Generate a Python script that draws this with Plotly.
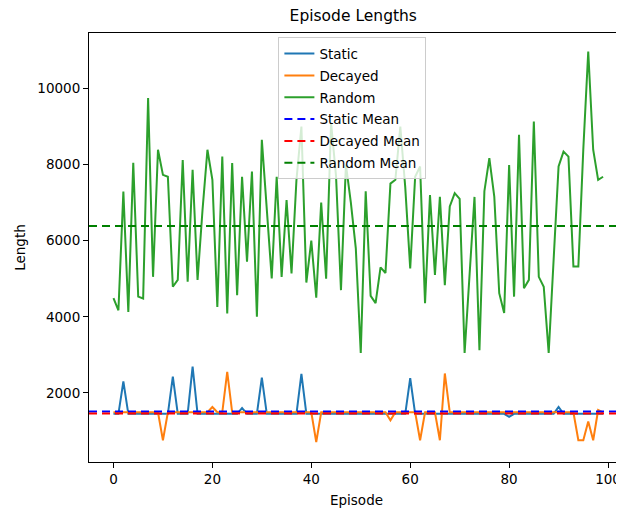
import numpy as np
import plotly.graph_objects as go

episodes = list(range(100))

static = [
    1450, 1450, 2300, 1450, 1450, 1450, 1450, 1450, 1450, 1450,
    1450, 1450, 2430, 1450, 1450, 1450, 2690, 1450, 1450, 1450,
    1450, 1450, 1450, 1450, 1450, 1450, 1600, 1450, 1450, 1450,
    2400, 1450, 1450, 1450, 1450, 1450, 1450, 1450, 2500, 1450,
    1450, 1450, 1450, 1450, 1450, 1450, 1450, 1450, 1450, 1450,
    1450, 1450, 1450, 1450, 1450, 1450, 1450, 1450, 1450, 1450,
    2390, 1450, 1450, 1450, 1450, 1450, 1450, 1450, 1450, 1450,
    1450, 1450, 1450, 1450, 1450, 1450, 1450, 1450, 1450, 1450,
    1370, 1450, 1450, 1450, 1450, 1450, 1450, 1450, 1450, 1450,
    1630, 1450, 1450, 1450, 1450, 1450, 1450, 1450, 1450, 1450,
]

decayed = [
    1490, 1490, 1490, 1490, 1490, 1490, 1490, 1490, 1490, 1490,
    755, 1490, 1490, 1490, 1490, 1490, 1490, 1490, 1490, 1490,
    1630, 1490, 1490, 2550, 1490, 1490, 1490, 1490, 1490, 1490,
    1490, 1490, 1490, 1490, 1490, 1490, 1490, 1490, 1490, 1490,
    1490, 710, 1490, 1490, 1490, 1490, 1490, 1490, 1490, 1490,
    1490, 1490, 1490, 1490, 1490, 1490, 1280, 1490, 1490, 1490,
    1490, 1490, 755, 1490, 1490, 1490, 755, 2510, 1490, 1490,
    1490, 1490, 1490, 1490, 1490, 1490, 1490, 1490, 1490, 1490,
    1490, 1490, 1490, 1490, 1490, 1490, 1490, 1490, 1490, 1490,
    1490, 1490, 1490, 1490, 755, 755, 1250, 755, 1550, 1490,
]

random_lengths = [
    4490, 4170, 7290, 4130, 8050, 4530, 4480, 9750, 5050, 8390,
    7730, 7680, 4790, 4970, 8120, 4920, 7860, 4970, 6800, 8390,
    7600, 4260, 8210, 4090, 8040, 4570, 7680, 5450, 7820, 4000,
    8650, 6700, 5010, 7680, 5050, 7070, 5140, 7600, 9000, 4900,
    6000, 4500, 7000, 5000, 9100, 7700, 4700, 8000, 7000, 5800,
    3050, 7300, 4550, 4360, 5300, 5150, 7500, 7600, 9000, 7400,
    5270, 7680, 7950, 4360, 7200, 5100, 7150, 4830, 6900, 7250,
    7100, 3050, 5200, 7150, 3120, 7300, 8170, 7160, 4620, 4100,
    7990, 4530, 8780, 4750, 4970, 9130, 5050, 4790, 3050, 5400,
    7950, 8340, 8210, 5320, 5320, 8400, 10970, 8390, 7600, 7680,
]

series = [("Static", static, "#1f77b4"),
          ("Decayed", decayed, "#ff7f0e"),
          ("Random", random_lengths, "#2ca02c")]
means = [("Static Mean", float(np.mean(static)), "#0000ff"),
         ("Decayed Mean", float(np.mean(decayed)), "#ff0000"),
         ("Random Mean", float(np.mean(random_lengths)), "#008000")]

FONT = "DejaVu Sans"
# the page body has an 8px default margin; the figure is sized to fill the rest of the window
W, H = 616, 502

fig = go.Figure()
rank = 1
for name, vals, col in series:
    fig.add_trace(go.Scatter(x=episodes, y=vals, mode="lines", name=name,
                             line=dict(color=col, width=2), legendrank=rank,
                             legendgroup=name))
    rank += 1
for name, m, col in means:
    fig.add_shape(type="line", xref="x domain", x0=0, x1=1, yref="y", y0=m, y1=m,
                  line=dict(color=col, width=2, dash="8px,5px"), layer="above",
                  showlegend=True, name=name, legendrank=rank, legendgroup=name)
    rank += 1

axis_common = dict(showline=True, linecolor="black", linewidth=1.1, ticks="outside",
                   ticklen=5, tickwidth=1.1, tickcolor="black", showgrid=False,
                   zeroline=False, automargin=False, tickformat="d",
                   tickfont=dict(family=FONT, size=13.5, color="black"))

fig.update_layout(
    width=W, height=H,
    margin=dict(l=80.5, r=0, t=25, b=48),
    paper_bgcolor="white", plot_bgcolor="white",
    font=dict(family=FONT, color="black"),
    title=dict(text="Episode Lengths", x=0.494, xref="paper", xanchor="center",
               y=1 - 7.5 / H, yanchor="middle", font=dict(family=FONT, size=15.5, color="black")),
    xaxis=dict(range=[-4.95, 103.23], tickmode="array", tickvals=[0, 20, 40, 60, 80, 100],
               mirror=True, title=dict(text="Episode", font=dict(family=FONT, size=13.5), standoff=9),
               **axis_common),
    yaxis=dict(range=[184, 11458], tickmode="array", tickvals=[2000, 4000, 6000, 8000, 10000],
               title=dict(text="Length", font=dict(family=FONT, size=13.5), standoff=8),
               **axis_common),
    legend=dict(x=0.354, y=0.99, xanchor="left", yanchor="top",
                bgcolor="rgba(255,255,255,0.8)", bordercolor="#cccccc", borderwidth=1,
                font=dict(family=FONT, size=13.5, color="black"), tracegroupgap=1.3,
                traceorder="grouped"),
    showlegend=True,
)

fig.write_html("out.html")
